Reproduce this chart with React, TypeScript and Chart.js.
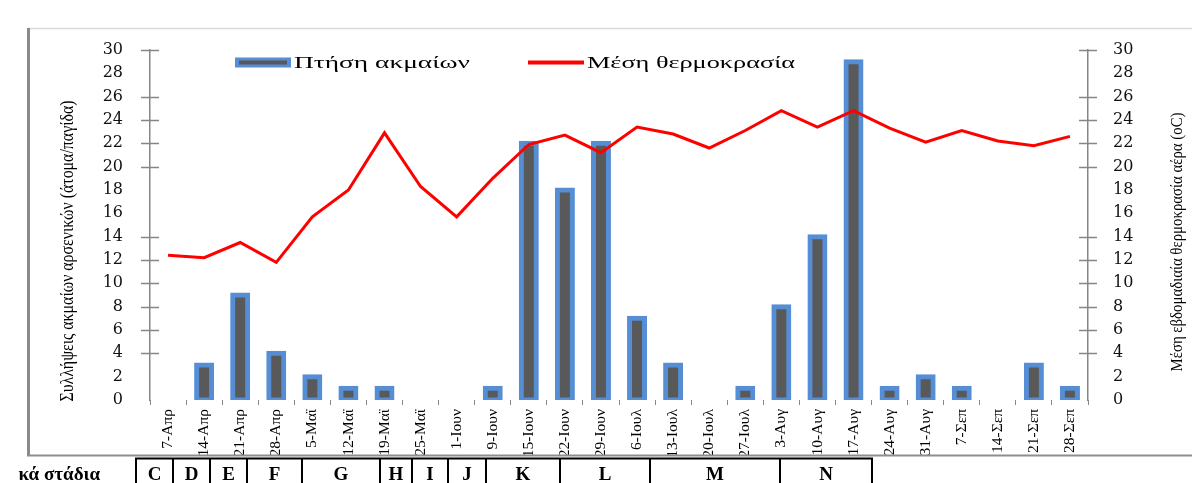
import React, { useEffect, useRef } from 'react';
import { Chart, registerables } from 'chart.js';

Chart.register(...registerables);

// ---- data ----
const categories = [
  '7-Απρ', '14-Απρ', '21-Απρ', '28-Απρ', '5-Μαϊ', '12-Μαϊ', '19-Μαϊ', '25-Μαϊ',
  '1-Ιουν', '9-Ιουν', '15-Ιουν', '22-Ιουν', '29-Ιουν', '6-Ιουλ', '13-Ιουλ', '20-Ιουλ',
  '27-Ιουλ', '3-Αυγ', '10-Αυγ', '17-Αυγ', '24-Αυγ', '31-Αυγ', '7-Σεπ', '14-Σεπ',
  '21-Σεπ', '28-Σεπ',
];
const adultFlight = [0, 3, 9, 4, 2, 1, 1, 0, 0, 1, 22, 18, 22, 7, 3, 0, 1, 8, 14, 29, 1, 2, 1, 0, 3, 1];
const meanTemp = [
  12.4, 12.2, 13.5, 11.8, 15.7, 18.0, 22.9, 18.3, 15.7, 19.0, 21.9, 22.7, 21.2,
  23.4, 22.8, 21.6, 23.1, 24.8, 23.4, 24.8, 23.3, 22.1, 23.1, 22.2, 21.8, 22.6,
];
const hiddenTickValues = [0, 2, 16, 18, 28];
const stages = ['C', 'D', 'E', 'F', 'G', 'H', 'I', 'J', 'K', 'L', 'M', 'N'];

const barLabel = 'Πτήση ακμαίων';
const lineLabel = 'Μέση θερμοκρασία';
const leftTitle = 'Συλλήψεις ακμαίων αρσενικών (άτομα/παγίδα)';
const rightTitle = 'Μέση εβδομαδιαία θερμοκρασία αέρα (oC)';
const stageRowLabel = 'κά στάδια';

// ---- layout / style ----
const stageEdges = [136, 173, 210, 247, 302, 380, 412, 448, 486, 560, 650, 780, 872];
const BAR_BORDER = '#558ED5';
const BAR_FILL = '#595959';
const LINE_COLOR = '#FF0000';
const AXIS_COLOR = '#868686';
const SERIF = '"Liberation Serif", "Times New Roman", serif';

export default function App() {
  const ref = useRef<HTMLCanvasElement>(null);

  useEffect(() => {
    const crossTicks = {
      id: 'crossTicks',
      afterDraw(chart: any) {
        const ctx = chart.ctx;
        const area = chart.chartArea;
        ['y', 'y1'].forEach((id) => {
          const s = chart.scales[id];
          const x = id === 'y' ? area.left : area.right;
          ctx.save();
          ctx.strokeStyle = AXIS_COLOR;
          ctx.lineWidth = 1.5;
          s.ticks.forEach((t: any) => {
            if (hiddenTickValues.includes(t.value)) return;
            const y = Math.round(s.getPixelForValue(t.value)) + 0.5;
            ctx.beginPath();
            ctx.moveTo(x - 9, y);
            ctx.lineTo(x + 9, y);
            ctx.stroke();
          });
          ctx.restore();
        });
      },
    };

    const yTickFont = { family: '"DejaVu Serif", serif', size: 16 };

    const chart = new Chart(ref.current as HTMLCanvasElement, {
      type: 'bar',
      data: {
        labels: categories,
        datasets: [
          {
            type: 'line',
            label: lineLabel,
            data: meanTemp,
            yAxisID: 'y1',
            borderColor: LINE_COLOR,
            backgroundColor: LINE_COLOR,
            borderWidth: 3,
            pointRadius: 0,
            tension: 0,
            order: 0,
          } as any,
          {
            type: 'bar',
            label: barLabel,
            data: adultFlight,
            yAxisID: 'y',
            backgroundColor: BAR_FILL,
            borderColor: BAR_BORDER,
            borderWidth: (c: any) => (c.raw ? 5 : 0),
            inflateAmount: (c: any) => (c.raw ? 2.5 : 0),
            borderSkipped: false,
            barThickness: 15,
            order: 1,
          } as any,
        ],
      },
      options: {
        responsive: false,
        animation: false,
        layout: { padding: { top: 50, left: 0, right: 0, bottom: 0 } },
        plugins: {
          legend: { display: false },
          tooltip: { enabled: false },
        },
        scales: {
          x: {
            offset: true,
            grid: {
              display: true,
              drawOnChartArea: false,
              drawTicks: true,
              tickLength: 5,
              color: AXIS_COLOR,
              lineWidth: 1,
              offset: true,
            },
            border: { display: false },
            ticks: {
              autoSkip: false,
              maxRotation: 90,
              minRotation: 90,
              padding: 4,
              color: '#000',
              font: { family: SERIF, size: 15.5 },
            },
            afterFit: (s: any) => {
              s.height = 55;
            },
          },
          y: {
            position: 'left',
            min: 0,
            max: 30,
            grid: { display: false, drawTicks: false },
            border: { display: true, color: AXIS_COLOR, width: 1.5 },
            ticks: { stepSize: 2, padding: 27, color: '#111', font: yTickFont },
            afterFit: (s: any) => {
              s.width = 150;
            },
          },
          y1: {
            position: 'right',
            min: 0,
            max: 30,
            grid: { display: false, drawTicks: false },
            border: { display: true, color: AXIS_COLOR, width: 1.5 },
            ticks: { stepSize: 2, padding: 25, color: '#111', font: yTickFont },
            afterFit: (s: any) => {
              s.width = 104;
            },
          },
        },
      } as any,
      plugins: [crossTicks],
    });
    return () => chart.destroy();
  }, []);

  return (
    <div
      style={{
        position: 'absolute',
        left: 0,
        top: 0,
        width: 1192,
        height: 483,
        background: '#fff',
        overflow: 'hidden',
      }}
    >
      <canvas
        ref={ref}
        width={1192}
        height={455}
        style={{ position: 'absolute', left: 0, top: 0, width: 1192, height: 455 }}
      />
      <svg
        width={1192}
        height={483}
        style={{ position: 'absolute', left: 0, top: 0, pointerEvents: 'none' }}
        fontFamily={SERIF}
      >
        {/* chart frame */}
        <line x1={28} y1={28.5} x2={1192} y2={28.5} stroke="#D9D9D9" strokeWidth={1.5} />
        <line x1={28.5} y1={28} x2={28.5} y2={456} stroke="#8A8A8A" strokeWidth={3} />
        <line x1={27} y1={455.5} x2={1192} y2={455.5} stroke="#8E8E8E" strokeWidth={2} />

        {/* legend */}
        <rect x={235} y={57.5} width={56} height={10} fill={BAR_BORDER} />
        <rect x={239} y={60.5} width={48} height={4} fill={BAR_FILL} />
        <text x={294} y={68} fontSize={17} fill="#000" textLength={176} lengthAdjust="spacingAndGlyphs">
          {barLabel}
        </text>
        <line x1={528} y1={62.5} x2={584} y2={62.5} stroke={LINE_COLOR} strokeWidth={4} />
        <text x={587} y={68} fontSize={17} fill="#000" textLength={208} lengthAdjust="spacingAndGlyphs">
          {lineLabel}
        </text>

        {/* axis titles */}
        <text
          transform="translate(67,251) rotate(-90)"
          textAnchor="middle"
          dominantBaseline="central"
          fontSize={18}
          fill="#000"
          textLength={301}
          lengthAdjust="spacingAndGlyphs"
        >
          {leftTitle}
        </text>
        <text
          transform="translate(1176,242) rotate(-90)"
          textAnchor="middle"
          dominantBaseline="central"
          fontSize={17}
          fill="#000"
          textLength={259}
          lengthAdjust="spacingAndGlyphs"
        >
          {rightTitle}
        </text>

        {/* stage table */}
        <text x={100} y={480} textAnchor="end" fontSize={19} fontWeight="bold" fill="#000">
          {stageRowLabel}
        </text>
        <line
          x1={stageEdges[0] - 1}
          y1={458.5}
          x2={stageEdges[stageEdges.length - 1] + 1}
          y2={458.5}
          stroke="#000"
          strokeWidth={2}
        />
        {stageEdges.map((x, i) => (
          <line key={'e' + i} x1={x} y1={458} x2={x} y2={483} stroke="#000" strokeWidth={2} />
        ))}
        {stages.map((s, i) => (
          <text
            key={'s' + i}
            x={(stageEdges[i] + stageEdges[i + 1]) / 2}
            y={480}
            textAnchor="middle"
            fontSize={19}
            fontWeight="bold"
            fill="#000"
          >
            {s}
          </text>
        ))}
      </svg>
    </div>
  );
}
